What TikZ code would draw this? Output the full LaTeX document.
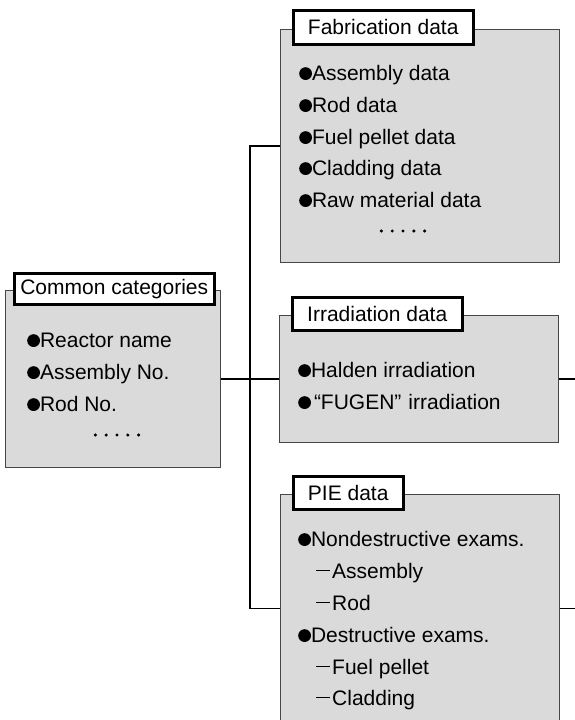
\documentclass[tikz,border=0pt]{standalone}
\usepackage{fontspec}
\setmainfont{Liberation Sans}
\definecolor{boxgray}{RGB}{218,218,218}
\definecolor{edgegray}{RGB}{70,70,70}
\newcommand\bul{\tikz[baseline=0pt]\fill (6.4pt,6.4pt) circle (6.4pt);}
\newcommand\subdash{\hspace*{18pt}\rule[7pt]{14pt}{1pt}\hspace{2pt}}
\newcommand\fivedots{\tikz[baseline=0pt]{\foreach \k in {0,1,2,3,4}{\fill (\k*10.8pt,7pt) circle (1.7pt);}}}
\tikzset{
  graybox/.style={draw=edgegray, line width=1pt, fill=boxgray, anchor=north west, inner sep=0pt},
  titlebox/.style={draw=black, line width=2.5pt, fill=white, anchor=north west, inner sep=0pt, font=\fontsize{21}{24}\selectfont},
  item/.style={anchor=base west, inner sep=0pt, font=\fontsize{21}{24}\selectfont},
  dots/.style={anchor=base, inner sep=0pt},
  conn/.style={draw=black, line width=1.3pt}
}
\begin{document}
\begin{tikzpicture}[x=1pt,y=-1pt]
\clip (0,0) rectangle (575,720);
\fill[white] (0,0) rectangle (575,720);
% gray boxes
\node[graybox, minimum width=215, minimum height=177] (common) at (5,290) {};
\node[graybox, minimum width=279, minimum height=233] (fab) at (280,29) {};
\node[graybox, minimum width=279, minimum height=127] (irr) at (279,315) {};
\node[graybox, minimum width=279, minimum height=228] (pie) at (280,494) {};
% titles
\node[titlebox, minimum width=200, minimum height=31] (tcommon) at (13,272) {Common categories};
\node[titlebox, minimum width=180, minimum height=34] (tfab) at (292,9) {Fabrication data};
\node[titlebox, minimum width=170, minimum height=33] (tirr) at (291,296) {Irradiation data};
\node[titlebox, minimum width=110, minimum height=33] (tpie) at (292,475) {PIE data};
% common items
\node[item] (c1) at (27,347) {\bul Reactor name};
\node[item] (c2) at (27,379) {\bul Assembly No.};
\node[item] (c3) at (27,411) {\bul Rod No.};
\node[dots] (c4) at (117,442) {\fivedots};
% fabrication items
\node[item] (f1) at (299,80) {\bul Assembly data};
\node[item] (f2) at (299,112) {\bul Rod data};
\node[item] (f3) at (299,144) {\bul Fuel pellet data};
\node[item] (f4) at (299,175) {\bul Cladding data};
\node[item] (f5) at (299,207) {\bul Raw material data};
\node[dots] (f6) at (403,238) {\fivedots};
% irradiation items
\node[item] (i1) at (298,377) {\bul Halden irradiation};
\node[item] (i2) at (298,409) {\bul\hspace{3pt}“FUGEN”\hspace{7pt}irradiation};
% PIE items
\node[item] (p1) at (298,546) {\bul Nondestructive exams.};
\node[item] (p2) at (298,578) {\subdash Assembly};
\node[item] (p3) at (298,610) {\subdash Rod};
\node[item] (p4) at (298,642) {\bul Destructive exams.};
\node[item] (p5) at (298,674) {\subdash Fuel pellet};
\node[item] (p6) at (298,705) {\subdash Cladding};
% connectors
\coordinate (bus) at (250,0);
\coordinate (out) at (575,0);
\draw[conn] (common.east) -- (irr.west);
\draw[conn] (fab.west) -- (fab.west -| bus) -- (pie.west -| bus) -- (pie.west);
\draw[conn] (irr.east) -- (irr.east -| out);
\draw[conn] (pie.east) -- (pie.east -| out);
\end{tikzpicture}
\end{document}
